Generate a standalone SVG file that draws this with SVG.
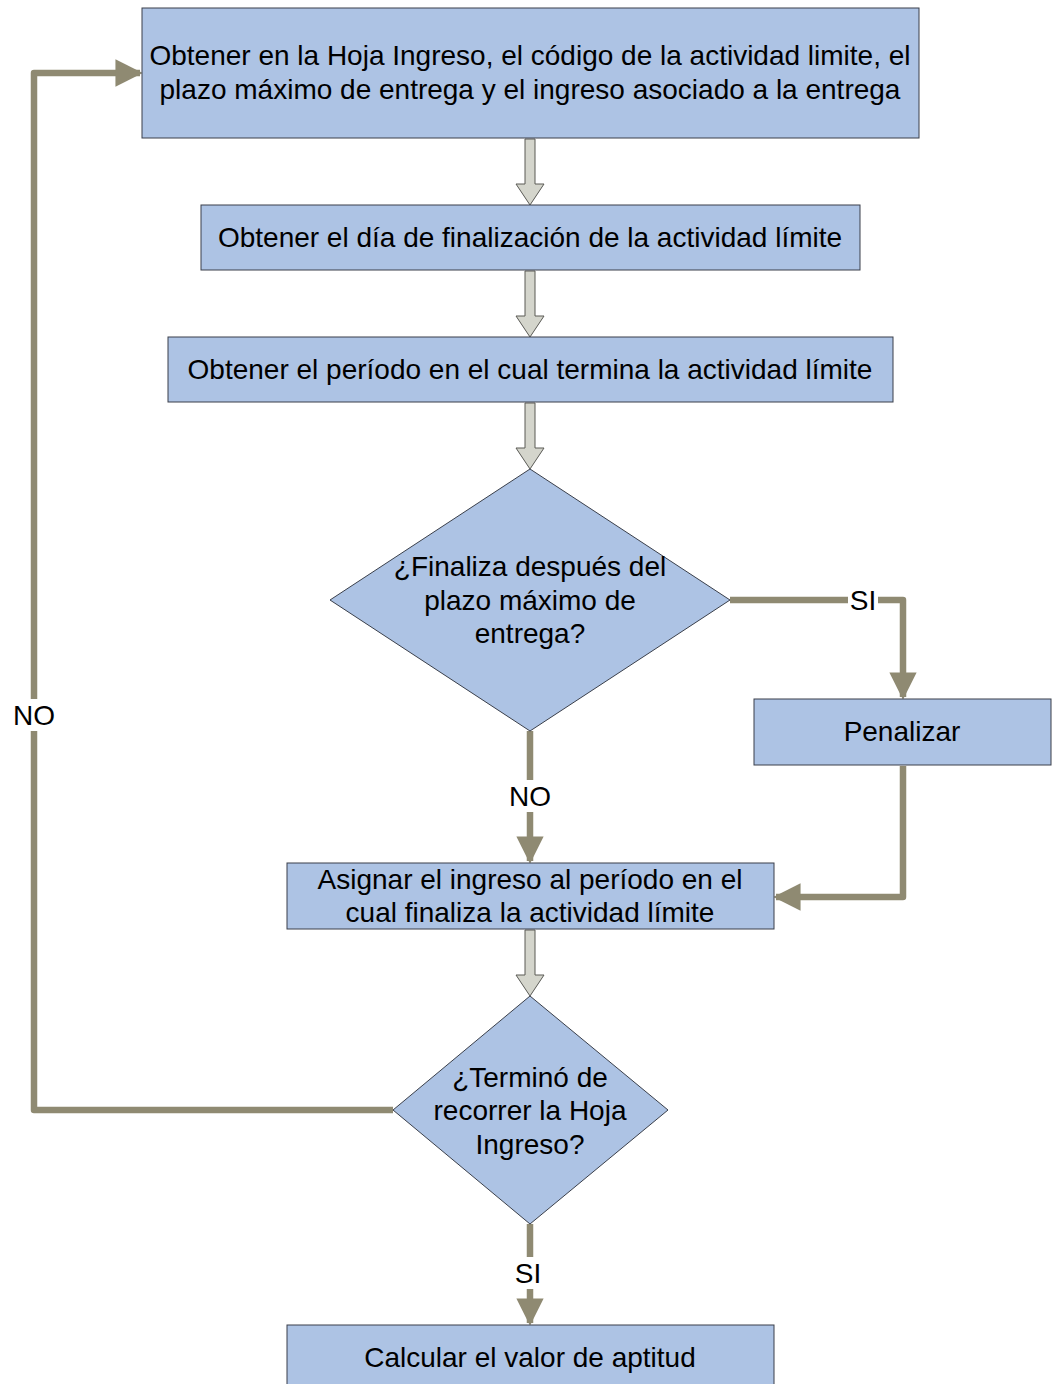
<svg xmlns="http://www.w3.org/2000/svg" width="1052" height="1384" viewBox="0 0 1052 1384">
<defs>
<style>
.box{fill:#adc3e4;stroke:#3a3f4a;stroke-width:1}
.t{font-family:"Liberation Sans",Arial,sans-serif;font-size:28px;fill:#000;text-anchor:middle}
.c{fill:none;stroke:#8f8a72;stroke-width:6.5;stroke-linejoin:round}
.hollow{fill:#d4d5cc;stroke:#5a5a55;stroke-width:1}
.lbl{fill:#fff}
</style>
<marker id="ah" viewBox="0 0 10 10" refX="9" refY="5" markerWidth="4.2" markerHeight="4.2" orient="auto" markerUnits="strokeWidth">
<path d="M0,0 L10,5 L0,10 z" fill="#8f8a72"/>
</marker>
</defs>
<rect width="1052" height="1384" fill="#fff"/>

<g id="connectors">
<path class="hollow" d="M525,139 L535,139 L535,184 L544,184 L530,205 L516,184 L525,184 z"/>
<path class="hollow" d="M525,271 L535,271 L535,316 L544,316 L530,337 L516,316 L525,316 z"/>
<path class="hollow" d="M525,403 L535,403 L535,448 L544,448 L530,469 L516,448 L525,448 z"/>
<path class="hollow" d="M525,930 L535,930 L535,975 L544,975 L530,996 L516,975 L525,975 z"/>
<path class="c" d="M730,600 L903,600 L903,697" marker-end="url(#ah)"/>
<path class="c" d="M903,766 L903,897 L776,897" marker-end="url(#ah)"/>
<path class="c" d="M530,731 L530,861" marker-end="url(#ah)"/>
<path class="c" d="M393,1110 L34,1110 L34,73 L140,73" marker-end="url(#ah)"/>
<path class="c" d="M530,1224 L530,1323" marker-end="url(#ah)"/>
<rect class="lbl" x="848" y="584" width="30" height="32"/>
<text class="t" x="863" y="610">SI</text>
<rect class="lbl" x="506" y="780" width="48" height="32"/>
<text class="t" x="530" y="806">NO</text>
<rect class="lbl" x="10" y="699" width="48" height="32"/>
<text class="t" x="34" y="725">NO</text>
<rect class="lbl" x="513" y="1257" width="30" height="32"/>
<text class="t" x="528" y="1283">SI</text>
</g>

<g id="n1">
<rect class="box" x="142" y="8" width="777" height="130"/>
<text class="t" x="530" y="65">Obtener en la Hoja Ingreso, el código de la actividad limite, el</text>
<text class="t" x="530" y="99">plazo máximo de entrega y el ingreso asociado a la entrega</text>
</g>
<g id="n2">
<rect class="box" x="201" y="205" width="659" height="65"/>
<text class="t" x="530" y="247">Obtener el día de finalización de la actividad límite</text>
</g>
<g id="n3">
<rect class="box" x="168" y="337" width="725" height="65"/>
<text class="t" x="530" y="379">Obtener el período en el cual termina la actividad límite</text>
</g>
<g id="d1">
<path class="box" d="M530,469 L730,600 L530,731 L330,600 z"/>
<text class="t" x="530" y="576">¿Finaliza después del</text>
<text class="t" x="530" y="610">plazo máximo de</text>
<text class="t" x="530" y="643">entrega?</text>
</g>
<g id="n4">
<rect class="box" x="754" y="699" width="297" height="66"/>
<text class="t" x="902" y="741">Penalizar</text>
</g>
<g id="n5">
<rect class="box" x="287" y="863" width="487" height="66"/>
<text class="t" x="530" y="889">Asignar el ingreso al período en el</text>
<text class="t" x="530" y="922">cual finaliza la actividad límite</text>
</g>
<g id="d2">
<path class="box" d="M530,996 L668,1110 L530,1224 L393,1110 z"/>
<text class="t" x="530" y="1087">¿Terminó de</text>
<text class="t" x="530" y="1120">recorrer la Hoja</text>
<text class="t" x="530" y="1154">Ingreso?</text>
</g>
<g id="n6">
<rect class="box" x="287" y="1325" width="487" height="66"/>
<text class="t" x="530" y="1367">Calcular el valor de aptitud</text>
</g>
</svg>
